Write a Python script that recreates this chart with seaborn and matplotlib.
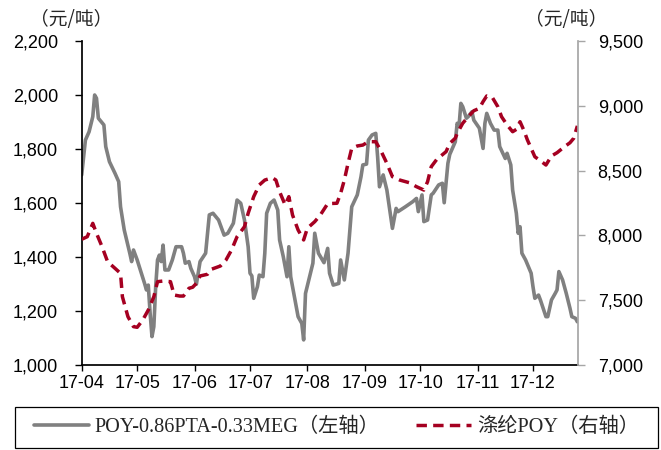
import matplotlib
matplotlib.use('Agg')

import matplotlib.dates as mdates
import matplotlib.pyplot as plt
import pandas as pd
import seaborn as sns
from matplotlib.font_manager import FontProperties
from matplotlib.patches import Rectangle
from matplotlib.ticker import FuncFormatter, MultipleLocator

# POY-0.86PTA-0.33MEG (left axis), daily, 2017
spread_dates = [
    '04-01', '04-03', '04-05', '04-07', '04-08', '04-09', '04-10', '04-13', '04-14', '04-16',
    '04-19', '04-21', '04-22', '04-24', '04-27', '04-28', '04-29', '05-01', '05-03', '05-05',
    '05-06', '05-07', '05-08', '05-09', '05-10', '05-11', '05-12', '05-13', '05-14', '05-15',
    '05-16', '05-18', '05-20', '05-22', '05-25', '05-26', '05-27', '05-29', '05-30', '06-01',
    '06-02', '06-04', '06-07', '06-09', '06-11', '06-14', '06-17', '06-19', '06-22', '06-24',
    '06-26', '06-28', '06-30', '07-01', '07-02', '07-03', '07-05', '07-06', '07-08', '07-09',
    '07-10', '07-12', '07-14', '07-16', '07-17', '07-19', '07-21', '07-22', '07-23', '07-25',
    '07-27', '07-29', '07-30', '07-31', '08-02', '08-04', '08-05', '08-07', '08-10', '08-12',
    '08-13', '08-15', '08-18', '08-19', '08-21', '08-23', '08-25', '08-28', '08-30', '08-31',
    '09-02', '09-03', '09-05', '09-07', '09-08', '09-09', '09-11', '09-13', '09-16', '09-18',
    '09-19', '09-23', '09-27', '09-29', '09-30', '10-02', '10-03', '10-05', '10-07', '10-08',
    '10-11', '10-13', '10-14', '10-16', '10-17', '10-20', '10-21', '10-22', '10-23', '10-24',
    '10-26', '10-27', '10-29', '10-30', '11-02', '11-04', '11-05', '11-06', '11-08', '11-10',
    '11-12', '11-13', '11-16', '11-17', '11-19', '11-20', '11-22', '11-23', '11-24', '11-25',
    '11-27', '11-30', '12-01', '12-02', '12-04', '12-05', '12-08', '12-09', '12-11', '12-13',
    '12-14', '12-15', '12-17', '12-19', '12-21', '12-22', '12-24', '12-25',
]
spread_vals = [
    1704, 1833, 1864, 1920, 2000, 1988, 1914, 1889, 1809, 1753,
    1710, 1679, 1586, 1500, 1414, 1383, 1426, 1389, 1346, 1302,
    1278, 1296, 1191, 1105, 1142, 1290, 1389, 1407, 1383, 1444,
    1352, 1352, 1389, 1438, 1438, 1414, 1377, 1383, 1358, 1327,
    1299, 1383, 1414, 1556, 1562, 1537, 1481, 1488, 1525, 1611,
    1599, 1537, 1438, 1340, 1330, 1247, 1290, 1333, 1327, 1414,
    1562, 1599, 1611, 1574, 1463, 1401, 1327, 1438, 1327, 1253,
    1179, 1154, 1093, 1265, 1321, 1377, 1488, 1414, 1379, 1432,
    1340, 1296, 1302, 1389, 1315, 1414, 1586, 1630, 1697, 1741,
    1744, 1833, 1852, 1858, 1771, 1660, 1704, 1648, 1506, 1580,
    1568, 1586, 1605, 1617, 1568, 1630, 1531, 1537, 1630, 1636,
    1667, 1673, 1601, 1747, 1780, 1827, 1895, 1883, 1969, 1957,
    1914, 1920, 1938, 1907, 1877, 1802, 1895, 1932, 1895, 1870,
    1870, 1809, 1765, 1784, 1741, 1648, 1562, 1488, 1512, 1414,
    1389, 1340, 1290, 1247, 1259, 1241, 1179, 1179, 1241, 1265,
    1278, 1346, 1315, 1265, 1210, 1179, 1173, 1160,
]

# 涤纶POY price (right axis)
poy_dates = [
    '04-01', '04-04', '04-07', '04-09', '04-12', '04-15', '04-19', '04-22', '04-23', '04-26',
    '04-29', '05-01', '05-04', '05-07', '05-10', '05-12', '05-15', '05-19', '05-21', '05-24',
    '05-26', '05-29', '05-31', '06-02', '06-04', '06-08', '06-10', '06-15', '06-18', '06-21',
    '06-24', '06-28', '06-30', '07-03', '07-06', '07-09', '07-13', '07-15', '07-17', '07-20',
    '07-22', '07-24', '07-27', '07-30', '08-01', '08-05', '08-08', '08-12', '08-17', '08-19',
    '08-21', '08-23', '08-25', '08-28', '08-31', '09-03', '09-07', '09-10', '09-13', '09-16',
    '09-20', '09-25', '09-29', '10-03', '10-05', '10-07', '10-10', '10-15', '10-17', '10-20',
    '10-21', '10-24', '10-27', '10-30', '11-02', '11-04', '11-06', '11-09', '11-12', '11-14',
    '11-17', '11-20', '11-22', '11-24', '11-26', '11-28', '11-30', '12-02', '12-05', '12-08',
    '12-11', '12-14', '12-18', '12-21', '12-23', '12-25',
]
poy_vals = [
    7970, 7990, 8093, 8016, 7913, 7797, 7746, 7707, 7527, 7373,
    7296, 7291, 7347, 7424, 7527, 7643, 7648, 7643, 7540, 7532,
    7532, 7592, 7600, 7630, 7687, 7700, 7738, 7764, 7810, 7887,
    7990, 8067, 8171, 8299, 8389, 8427, 8445, 8427, 8337, 8235,
    8299, 8157, 8042, 7965, 8055, 8106, 8157, 8245, 8248, 8325,
    8427, 8556, 8672, 8690, 8697, 8723, 8723, 8646, 8556, 8453,
    8427, 8407, 8376, 8350, 8414, 8530, 8587, 8646, 8710, 8750,
    8787, 8865, 8916, 8962, 8980, 9032, 9076, 9065, 8993, 8916,
    8852, 8800, 8818, 8877, 8813, 8736, 8672, 8607, 8576, 8543,
    8613, 8638, 8684, 8715, 8749, 8845,
]

spread_label = 'POY-0.86PTA-0.33MEG（左轴）'
poy_label = '涤纶POY（右轴）'
unit_label = '（元/吨）'

spread = pd.DataFrame({'date': pd.to_datetime(['2017-' + d for d in spread_dates]),
                       'value': spread_vals})
poy = pd.DataFrame({'date': pd.to_datetime(['2017-' + d for d in poy_dates]),
                    'value': poy_vals})

sns.set_theme(style='ticks')
plt.rcParams['font.family'] = ['Liberation Sans', 'Noto Sans CJK SC']

fig = plt.figure(figsize=(6.61, 4.5), dpi=100)
ax = fig.add_axes([81.7 / 661, 1 - 365 / 450, (578.3 - 81.7) / 661, 324 / 450])
ax2 = ax.twinx()

sns.lineplot(data=spread, x='date', y='value', ax=ax, color='#808080',
             linewidth=2.6, label=spread_label, legend=False)
sns.lineplot(data=poy, x='date', y='value', ax=ax2, color='#A50021',
             linewidth=2.5, label=poy_label, legend=False)
ax2.get_lines()[0].set_dashes([3.0, 1.8])

ax.set_xlim(pd.Timestamp('2017-04-01'), pd.Timestamp('2017-12-25 12:00'))
ax.set_ylim(1000, 2200)
ax2.set_ylim(7000, 9500)
ax.yaxis.set_major_locator(MultipleLocator(200))
ax2.yaxis.set_major_locator(MultipleLocator(500))
thousands = FuncFormatter(lambda v, p: f'{v:,.0f}')
ax.yaxis.set_major_formatter(thousands)
ax2.yaxis.set_major_formatter(thousands)
ax.xaxis.set_major_locator(mdates.MonthLocator())
ax.xaxis.set_major_formatter(mdates.DateFormatter('%y-%m'))

for a in (ax, ax2):
    a.set_xlabel('')
    a.set_ylabel('')
    a.grid(False)

ax.spines['top'].set_visible(False)
ax.spines['right'].set_visible(False)
ax.spines['left'].set_color('black')
ax.spines['bottom'].set_color('black')
for s in ('top', 'left', 'bottom'):
    ax2.spines[s].set_visible(False)
ax2.spines['right'].set_color('#A6A6A6')

ax.tick_params(axis='y', direction='out', length=5, width=1, color='black',
               pad=12, labelsize=13, labelcolor='black')
ax.tick_params(axis='x', direction='out', length=4, width=1, color='black',
               pad=3, labelsize=13, labelcolor='black')
ax2.tick_params(axis='y', direction='out', length=5, width=1, color='#A6A6A6',
                pad=9, labelsize=13, labelcolor='black')

# unit labels above both axes, spaced like the original
unit_font = FontProperties(family=['Noto Sans CJK SC', 'DejaVu Sans'], size=13.5)
fig.text(71 / 661, 1 - 20 / 450, unit_label, ha='center', va='center',
         fontproperties=unit_font)
fig.text(566 / 661, 1 - 20 / 450, unit_label, ha='center', va='center',
         fontproperties=unit_font)

# legend box at the bottom
fig.patches.append(Rectangle((15 / 661, 2 / 450), 643 / 661, 41 / 450,
                             transform=fig.transFigure, fill=False,
                             edgecolor='black', linewidth=0.9))
handles = [ax.get_lines()[0], ax2.get_lines()[0]]
legend_font = FontProperties(family=['Liberation Serif', 'Noto Sans CJK SC'], size=14.6)
fig.legend(handles, [spread_label, poy_label], loc='center',
           bbox_to_anchor=(336.5 / 661, 1 - 427 / 450), ncol=2, frameon=False,
           prop=legend_font, handlelength=2.7, handletextpad=0.3,
           columnspacing=1.8, borderpad=0, borderaxespad=0)

fig.savefig('out.png', dpi=100)
plt.close(fig)
